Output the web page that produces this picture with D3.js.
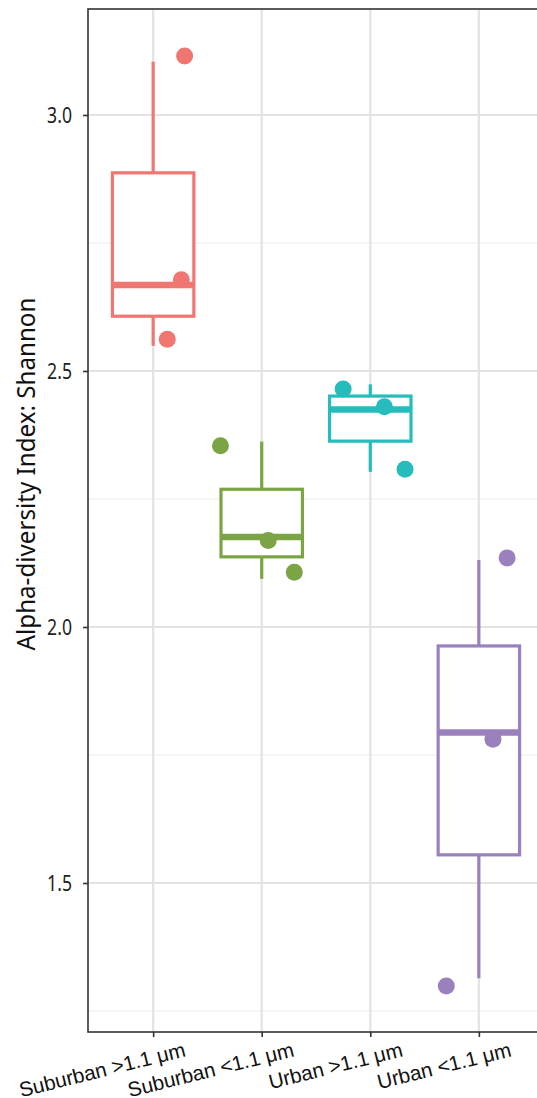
<!DOCTYPE html>
<html>
<head>
<meta charset="utf-8">
<script src="https://cdn.jsdelivr.net/npm/d3@7"></script>
<style>
  body { margin: 0; background: #fff; }
  svg { display: block; }
</style>
</head>
<body>
<div id="chart"></div>
<script>
// groups on the x axis
var categories = ["Suburban >1.1 μm", "Suburban <1.1 μm", "Urban >1.1 μm", "Urban <1.1 μm"];
var colors = ["#F07671", "#7BA544", "#26BCBC", "#9A80BC"];

// box statistics per group
var whiskerLow = [2.549, 2.094, 2.303, 1.314];
var q1 = [2.607, 2.137, 2.363, 1.555];
var median = [2.668, 2.176, 2.425, 1.794];
var q3 = [2.887, 2.269, 2.451, 1.963];
var whiskerHigh = [3.104, 2.362, 2.474, 2.131];

// jittered samples
var pointGroup = [0, 0, 0, 1, 1, 1, 2, 2, 2, 3, 3, 3];
var pointValue = [3.115, 2.678, 2.562, 2.354, 2.169, 2.107, 2.465, 2.430, 2.308, 2.135, 1.781, 1.299];
var pointJitter = [0.29, 0.26, 0.13, -0.38, 0.06, 0.30, -0.25, 0.13, 0.32, 0.26, 0.13, -0.30];

var yTicks = [1.5, 2.0, 2.5, 3.0];
var yMinor = [1.25, 1.75, 2.25, 2.75];
var yLimits = [1.209, 3.207];

var width = 537, height = 1098;
var margin = { left: 88, top: 9, bottom: 1032, right: 544 };

var svg = d3.select("#chart")
  .append("svg")
  .attr("width", width)
  .attr("height", height);

var x = d3.scalePoint()
  .domain(d3.range(categories.length))
  .range([margin.left, margin.right])
  .padding(0.6);
var step = x.step();

var y = d3.scaleLinear()
  .domain(yLimits)
  .range([margin.bottom, margin.top]);

// grid
var grid = svg.append("g");
grid.selectAll(".minor")
  .data(yMinor)
  .enter()
  .append("line")
  .attr("x1", margin.left).attr("x2", margin.right)
  .attr("y1", function (d) { return y(d); })
  .attr("y2", function (d) { return y(d); })
  .attr("stroke", "#ebebeb")
  .attr("stroke-width", 1.1);
grid.selectAll(".major")
  .data(yTicks)
  .enter()
  .append("line")
  .attr("x1", margin.left).attr("x2", margin.right)
  .attr("y1", function (d) { return y(d); })
  .attr("y2", function (d) { return y(d); })
  .attr("stroke", "#e3e3e3")
  .attr("stroke-width", 2.2);
grid.selectAll(".vmajor")
  .data(d3.range(categories.length))
  .enter()
  .append("line")
  .attr("y1", margin.top).attr("y2", margin.bottom)
  .attr("x1", function (d) { return x(d); })
  .attr("x2", function (d) { return x(d); })
  .attr("stroke", "#e3e3e3")
  .attr("stroke-width", 2.2);

// boxes
var boxW = step * 0.75;
var boxes = svg.append("g")
  .selectAll("g")
  .data(d3.range(categories.length))
  .enter()
  .append("g");

boxes.append("line")
  .attr("x1", function (d) { return x(d); })
  .attr("x2", function (d) { return x(d); })
  .attr("y1", function (d) { return y(whiskerHigh[d]); })
  .attr("y2", function (d) { return y(q3[d]); })
  .attr("stroke", function (d) { return colors[d]; })
  .attr("stroke-width", 3.2);
boxes.append("line")
  .attr("x1", function (d) { return x(d); })
  .attr("x2", function (d) { return x(d); })
  .attr("y1", function (d) { return y(q1[d]); })
  .attr("y2", function (d) { return y(whiskerLow[d]); })
  .attr("stroke", function (d) { return colors[d]; })
  .attr("stroke-width", 3.2);
boxes.append("rect")
  .attr("x", function (d) { return x(d) - boxW / 2; })
  .attr("width", boxW)
  .attr("y", function (d) { return y(q3[d]); })
  .attr("height", function (d) { return y(q1[d]) - y(q3[d]); })
  .attr("fill", "#fff")
  .attr("stroke", function (d) { return colors[d]; })
  .attr("stroke-width", 3.2);
boxes.append("line")
  .attr("x1", function (d) { return x(d) - boxW / 2; })
  .attr("x2", function (d) { return x(d) + boxW / 2; })
  .attr("y1", function (d) { return y(median[d]); })
  .attr("y2", function (d) { return y(median[d]); })
  .attr("stroke", function (d) { return colors[d]; })
  .attr("stroke-width", 6.5);

// points
svg.append("g")
  .selectAll("circle")
  .data(pointValue)
  .enter()
  .append("circle")
  .attr("cx", function (d, i) { return x(pointGroup[i]) + pointJitter[i] * step; })
  .attr("cy", function (d) { return y(d); })
  .attr("r", 8.5)
  .attr("fill", function (d, i) { return colors[pointGroup[i]]; });

// panel border
svg.append("rect")
  .attr("x", margin.left).attr("y", margin.top)
  .attr("width", margin.right - margin.left + 10)
  .attr("height", margin.bottom - margin.top)
  .attr("fill", "none")
  .attr("stroke", "#333")
  .attr("stroke-width", 1.6);

// y axis
var yAxis = svg.append("g")
  .attr("transform", "translate(" + margin.left + ",0)")
  .call(d3.axisLeft(y).tickValues(yTicks).tickFormat(d3.format(".1f")).tickSize(5));
yAxis.select(".domain").remove();
yAxis.selectAll(".tick line").attr("stroke", "#333").attr("stroke-width", 1.6);
yAxis.selectAll(".tick text")
  .attr("x", 0)
  .attr("dy", "0.36em")
  .attr("transform", "translate(-16,0) scale(0.84,1)")
  .attr("fill", "#222")
  .style("font-family", "'Noto Sans', sans-serif")
  .style("font-size", "21px");

// x axis
var xAxis = svg.append("g")
  .attr("transform", "translate(0," + margin.bottom + ")")
  .call(d3.axisBottom(x).tickSize(5).tickFormat(function (d) { return categories[d]; }));
xAxis.select(".domain").remove();
xAxis.selectAll(".tick line").attr("stroke", "#333").attr("stroke-width", 1.6);
xAxis.selectAll(".tick text")
  .attr("fill", "#111")
  .attr("text-anchor", "end")
  .attr("dy", null)
  .attr("y", null)
  .attr("transform", "translate(33,24) rotate(-14)")
  .style("font-family", "'Liberation Sans', Arial, sans-serif")
  .style("font-size", "20.6px");

// y title
svg.append("text")
  .attr("transform", "translate(35,474) rotate(-90) scale(0.93,1)")
  .attr("text-anchor", "middle")
  .style("font-family", "'Noto Sans', sans-serif")
  .style("font-size", "26px")
  .attr("fill", "#111")
  .text("Alpha-diversity Index: Shannon");
</script>
</body>
</html>
